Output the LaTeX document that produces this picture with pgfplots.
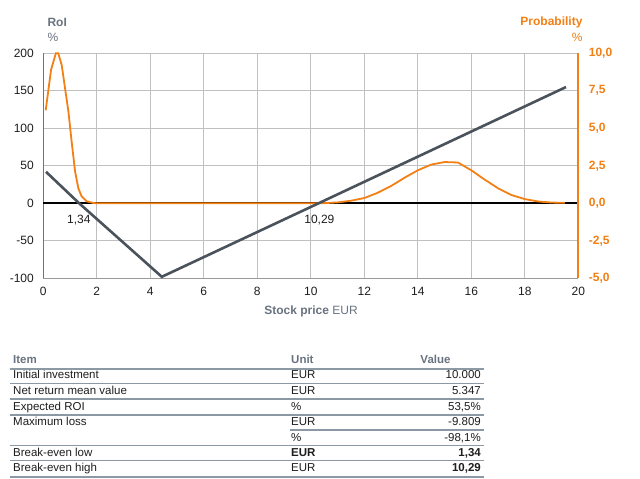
\documentclass[border=0pt]{standalone}
\usepackage{fontspec}
\setmainfont{Liberation Sans}
\usepackage{pgfplots}
\pgfplotsset{compat=1.18}
\definecolor{roigray}{RGB}{74,82,92}
\definecolor{probor}{RGB}{242,128,20}
\definecolor{gridc}{RGB}{192,192,192}
\definecolor{hdr}{RGB}{105,115,128}
\definecolor{tline}{RGB}{140,152,164}
\definecolor{txt}{RGB}{30,30,30}
\newcommand{\fsc}{\fontsize{12bp}{14bp}\selectfont}
\newcommand{\fst}{\fontsize{11.5bp}{13bp}\selectfont}
\begin{document}
\begin{tikzpicture}[x=1bp,y=1bp]
\path[use as bounding box,fill=white] (0,0) rectangle (640,479);
% axis 1: RoI, grid
\begin{axis}[
  at={(43.3bp,200.7bp)}, anchor=south west,
  scale only axis, width=535bp, height=225bp,
  xmin=0, xmax=20, ymin=-100, ymax=200,
  xtick={0,2,...,20}, ytick={-100,-50,...,200},
  grid=major, major grid style={gridc, line width=1bp},
  axis x line*=bottom, axis y line*=left,
  axis line style={-},
  x axis line style={gridc!80!black, line width=1bp},
  y axis line style={roigray!80, line width=1.6bp},
  major tick length=0pt,
  /pgf/number format/assume math mode=true,
  ticklabel style={font=\fsc, text=txt},
  xticklabel style={yshift=-5bp},
  yticklabel style={xshift=-6bp},
  clip=false,
]
\addplot[black, line width=1.6bp] coordinates {(0,0) (20,0)};
\node[font=\fsc, text=txt] at (axis cs:1.33,-22) {1,34};
\node[font=\fsc, text=txt] at (axis cs:10.32,-22) {10,29};
\end{axis}
% axis 2: probability
\begin{axis}[
  at={(43.3bp,200.7bp)}, anchor=south west,
  scale only axis, width=535bp, height=225bp,
  xmin=0, xmax=20, ymin=-5, ymax=10,
  ytick={-5,-2.5,...,10},
  axis x line=none, axis y line*=right,
  axis line style={-},
  y axis line style={probor, line width=2.2bp},
  major tick length=0pt,
  /pgf/number format/assume math mode=true,
  /pgf/number format/.cd, use comma, fixed, fixed zerofill, precision=1,
  /pgfplots/.cd,
  yticklabel style={font=\fsc\bfseries, text=probor, xshift=7bp},
  clip=false,
]
\addplot[probor, line width=1.8bp] coordinates {
(0.09,6.2) (0.29,8.9) (0.47,10.0) (0.56,10.0) (0.69,9.2) (0.81,7.7) (0.94,6.1)
(1.06,4.1) (1.19,2.1) (1.31,1.0) (1.43,0.47) (1.62,0.13) (1.87,0.02) (2.0,0)
(10.0,0) (10.5,0.01) (11.0,0.06) (11.5,0.17) (12.0,0.35) (12.5,0.70) (13.0,1.15)
(13.5,1.70) (14.0,2.20) (14.5,2.58) (15.0,2.75) (15.5,2.72) (16.0,2.20) (16.5,1.58)
(17.0,1.00) (17.5,0.55) (18.0,0.28) (18.5,0.12) (19.0,0.05) (19.5,0.03)
};
\end{axis}
% axis 3: RoI line on top
\begin{axis}[
  at={(43.3bp,200.7bp)}, anchor=south west,
  scale only axis, width=535bp, height=225bp,
  xmin=0, xmax=20, ymin=-100, ymax=200,
  axis lines=none,
]
\addplot[roigray, line width=2.6bp] coordinates {
(0.1,42) (1.34,0) (4.43,-98) (10.29,0) (19.54,155)
};
\end{axis}
% titles
\node[anchor=west, font=\fsc\bfseries, text=hdr] at (44,457) {RoI};
\node[anchor=west, font=\fsc, text=hdr] at (44,442) {\%};
\node[anchor=east, font=\fsc\bfseries, text=probor] at (586,457) {Probability};
\node[anchor=east, font=\fsc, text=probor] at (586,442) {\%};
\node[font=\fsc, text=hdr] at (311,168) {\textbf{Stock price} EUR};
% table
\begin{scope}[every node/.style={font=\fst, text=txt, inner sep=0pt, text height=8.5bp, text depth=2.5bp}]
\node[anchor=west, text=hdr, font=\fst\bfseries] at (13,118.3) {Item};
\node[anchor=west, text=hdr, font=\fst\bfseries] at (291,118.3) {Unit};
\node[text=hdr, font=\fst\bfseries] at (435.5,118.3) {Value};
\node[anchor=west] at (13,103) {Initial investment};
\node[anchor=west] at (291,103) {EUR};
\node[anchor=east] at (481,103) {10.000};
\node[anchor=west] at (13,87.3) {Net return mean value};
\node[anchor=west] at (291,87.3) {EUR};
\node[anchor=east] at (481,87.3) {5.347};
\node[anchor=west] at (13,71.3) {Expected ROI};
\node[anchor=west] at (291,71.3) {\%};
\node[anchor=east] at (481,71.3) {53,5\%};
\node[anchor=west] at (13,56.3) {Maximum loss};
\node[anchor=west] at (291,56.3) {EUR};
\node[anchor=east] at (481,56.3) {-9.809};
\node[anchor=west] at (291,40.7) {\%};
\node[anchor=east] at (481,40.7) {-98,1\%};
\node[anchor=west] at (13,25) {Break-even low};
\node[anchor=west, font=\fst\bfseries] at (291,25) {EUR};
\node[anchor=east, font=\fst\bfseries] at (481,25) {1,34};
\node[anchor=west] at (13,10) {Break-even high};
\node[anchor=west] at (291,10) {EUR};
\node[anchor=east, font=\fst\bfseries] at (481,10) {10,29};
\end{scope}
\draw[tline, line width=2bp] (10,110) -- (484,110);
\draw[tline, line width=1.2bp] (10,95.7) -- (484,95.7);
\draw[tline, line width=1.6bp] (10,79.7) -- (484,79.7);
\draw[tline, line width=1.2bp] (10,64) -- (484,64);
\draw[tline, line width=1.2bp] (290,49) -- (484,49);
\draw[tline, line width=1.6bp] (10,33.3) -- (484,33.3);
\draw[tline, line width=1.2bp] (10,18.3) -- (484,18.3);
\draw[tline, line width=2bp] (10,2.3) -- (484,2.3);
\end{tikzpicture}
\end{document}
